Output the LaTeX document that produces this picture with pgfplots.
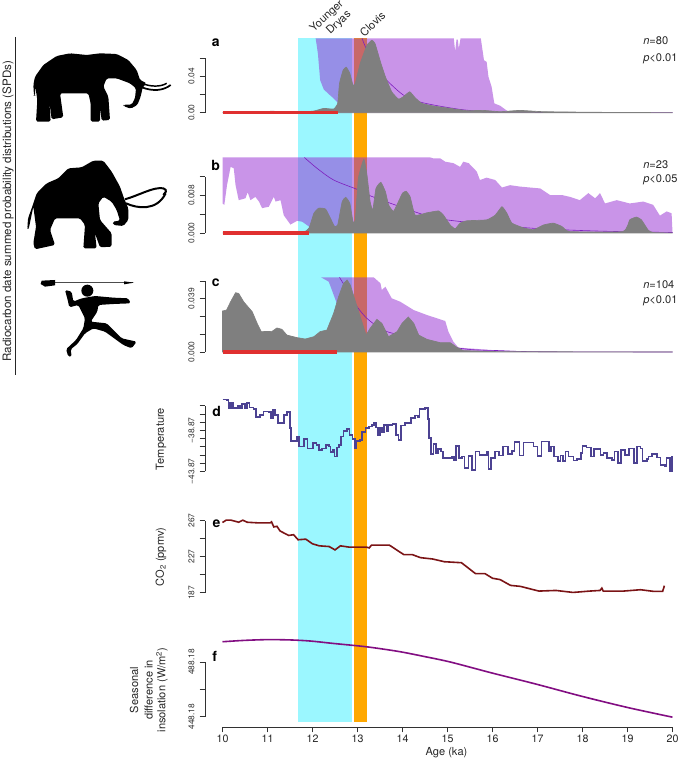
\documentclass[border=0pt]{standalone}
\usepackage{pgfplots}
\usepackage{fontspec}
\setmainfont{TeX Gyre Heros}
\pgfplotsset{compat=1.18}
\definecolor{bcyan}{RGB}{155,247,255}
\definecolor{borange}{RGB}{255,168,0}
\definecolor{pfill}{RGB}{147,41,209}
\definecolor{pline}{RGB}{125,30,190}
\definecolor{sgray}{RGB}{127,127,127}
\definecolor{sred}{RGB}{224,48,48}
\definecolor{tblue}{RGB}{76,66,146}
\definecolor{co2red}{RGB}{123,20,22}
\definecolor{insol}{RGB}{130,14,130}
\definecolor{axc}{RGB}{50,50,50}
\pgfplotsset{
  panel/.style={
    scale only axis, width=350.625pt, xmin=9.611, xmax=20, clip=false,
    axis x line=none, axis y line*=left, scaled y ticks=false,
    axis line style={-,color=axc,line width=0.55pt},
    tick style={color=axc,line width=0.55pt},
    tick align=outside, major tick length=4.1pt,
    yticklabel style={rotate=90,anchor=south,font=\fontsize{6.3}{7}\selectfont,text=black!80,inner sep=0pt},
    yticklabel shift=3.6pt,
  },
  env/.style={fill=pfill,fill opacity=0.5,draw=none,forget plot},
  curve/.style={color=pline,line width=0.45pt,forget plot},
  spd/.style={fill=sgray,draw=sgray,line width=0.5pt,forget plot,smooth,tension=0.25},
  redbar/.style={color=sred,line width=2.4pt,forget plot},
}
\begin{document}
\begin{tikzpicture}
\useasboundingbox (0,0) rectangle (510pt,571.5pt);
% ---- bands
\begin{axis}[scale only axis,hide axis,width=337.5pt,height=513pt,
  at={({222.5*0.75pt},{(762-722)*0.75pt})},xmin=10,xmax=20,ymin=0,ymax=1,clip=false]
\addplot[fill=bcyan,draw=none,forget plot] coordinates {(11.67,0)(11.67,1)(12.88,1)(12.88,0)} -- cycle;
\addplot[fill=borange,draw=none,forget plot] coordinates {(12.92,0)(12.92,1)(13.20,1)(13.20,0)} -- cycle;
\end{axis}
% ---- panel a
\begin{axis}[panel,height=41.1pt,at={({205*0.75pt},{(762-112.7)*0.75pt})},
  ymin=0,ymax=0.06,ytick={0,0.02,0.04,0.06},yticklabels={0.00,,0.04,}]
\addplot[env] coordinates {(12.58,0)(12.58,.0102)(12.47,.0156)(12.36,.0204)(12.25,.0255)(12.17,.0356)(12.12,.0647)(12.07,.0815)
 (15.14,.0815)(15.17,.0670)(15.20,.0800)(15.23,.0800)(15.25,.0700)(15.29,.0815)(15.74,.0815)(15.81,.0575)(15.87,.0556)(15.91,.0393)(15.98,.0284)(16.04,.0102)(16.17,.0076)(16.32,.0022)(16.39,0)} -- cycle;
\addplot[curve,smooth] coordinates {(13.10,.0815)(13.21,.0684)(13.43,.0502)(13.58,.0393)(13.76,.0302)(14.02,.0193)(14.32,.0127)(14.69,.0084)(15.28,.0036)(15.72,.0015)(16.17,.0004)(20,0)};
\addplot[spd] coordinates {(10.00,0)(10.62,.0011)(11.14,.0015)(11.66,.0004)(12.03,.0018)(12.25,.0047)(12.47,.0040)(12.56,.0102)(12.60,.0320)(12.68,.0465)(12.75,.0498)(12.83,.0429)(12.90,.0302)(12.95,.0320)(13.06,.0538)(13.21,.0738)(13.32,.0793)(13.39,.0756)(13.51,.0556)(13.62,.0393)(13.76,.0229)(13.91,.0149)(14.02,.0175)(14.16,.0229)(14.28,.0164)(14.43,.0102)(14.69,.0073)(15.06,.0047)(15.43,.0022)(15.80,.0025)(16.17,.0011)(16.61,.0025)(17.13,.0011)(18.39,.0004)(20,0)} -- cycle;
\addplot[redbar] coordinates {(10,0)(12.57,0)};
\end{axis}
% ---- panel b
\begin{axis}[panel,height=42.2pt,at={({205*0.75pt},{(762-233)*0.75pt})},
  ymin=0,ymax=0.012,ytick={0,0.004,0.008,0.012},yticklabels={0.000,,0.008,}]
\addplot[env] coordinates {(10,.0161)(14.62,.0161)(14.69,.0159)(14.84,.0159)(14.95,.0152)(15.13,.0149)(15.28,.0141)(15.35,.0152)(15.47,.0149)(15.65,.0131)(15.72,.0113)(15.87,.0118)(16.06,.0113)(16.21,.0097)(16.39,.0102)(16.61,.0099)(16.83,.0097)(17.06,.0095)(17.28,.0081)(17.54,.0081)(17.72,.0077)(17.94,.0070)(18.13,.0085)(18.28,.0074)(18.39,.0085)(18.50,.0063)(18.76,.0070)(19.05,.0063)(19.35,.0067)(19.57,.0060)(19.72,.0037)(19.87,.0046)(19.98,.0042)(20,0)
 (11.92,0)(11.92,.0014)(11.77,.0024)(11.66,.0026)(11.51,.0018)(11.36,.0038)(11.29,.0070)(11.18,.0067)(11.14,.0077)(11.03,.0056)(10.88,.0053)(10.81,.0067)(10.73,.0077)(10.62,.0070)(10.56,.0087)(10.51,.0074)(10.36,.0070)(10.29,.0102)(10.25,.0138)(10.18,.0141)(10.10,.0102)(10.04,.0060)(10,.0063)} -- cycle;
\addplot[curve,smooth] coordinates {(11.82,.0161)(12.10,.0138)(12.47,.0113)(12.99,.0093)(13.21,.0082)(13.95,.0056)(14.69,.0033)(15.43,.0023)(16.91,.0010)(18.39,.0004)(20,.0001)};
\addplot[spd] coordinates {(10,0)(11.73,.00014)(11.92,.0010)(12.03,.0042)(12.14,.0053)(12.29,.0051)(12.40,.0031)(12.49,.0014)(12.56,.0017)(12.66,.0067)(12.74,.0076)(12.83,.0063)(12.90,.0024)(12.95,.0028)(13.02,.0117)(13.14,.0157)(13.21,.0124)(13.28,.0067)(13.34,.0049)(13.41,.0095)(13.52,.0108)(13.62,.0088)(13.69,.0060)(13.80,.0046)(13.91,.0067)(14.00,.0085)(14.08,.0089)(14.17,.0077)(14.28,.0038)(14.54,.0043)(14.80,.0047)(14.91,.0038)(15.06,.0017)(15.17,.0009)(15.28,.0021)(15.43,.0026)(15.87,.0028)(16.06,.0038)(16.21,.0056)(16.32,.0042)(16.43,.0021)(16.69,.0011)(16.91,.0007)(17.13,.0017)(17.35,.0021)(17.54,.0014)(17.72,.0003)(18.90,.0003)(19.05,.0028)(19.20,.0034)(19.31,.0028)(19.46,.0006)(19.57,.0001)(20,0)} -- cycle;
\addplot[redbar] coordinates {(10,0)(11.92,0)};
\end{axis}
% ---- panel c
\begin{axis}[panel,height=53.25pt,at={({205*0.75pt},{(762-352)*0.75pt})},
  ymin=0,ymax=0.052,ytick={0,0.013,0.026,0.039,0.052},yticklabels={0.000,,,0.039,}]
\addplot[env] coordinates {(12.62,0)(12.62,.0295)(12.54,.0356)(12.43,.0454)(12.36,.0515)(12.19,.0547)(13.36,.0547)(13.51,.0503)(13.54,.0454)(13.62,.0478)(13.76,.0393)(13.95,.0368)(14.25,.0307)(14.54,.0271)(14.95,.0227)(15.02,.0149)(15.13,.0076)(15.24,.0032)(16.17,.0010)(17.06,.0002)(17.13,0)} -- cycle;
\addplot[curve,smooth] coordinates {(12.60,.0547)(12.77,.0454)(12.99,.0332)(13.21,.0246)(13.51,.0173)(13.84,.0132)(15.28,.0027)(16.17,.0010)(17.06,.0002)(20,0)};
\addplot[fill=sgray,draw=sgray,line width=0.5pt,forget plot] coordinates {(10,0)(10,.0300)(10.09,.0307)(10.18,.0368)(10.29,.0434)(10.36,.0429)(10.47,.0368)(10.66,.0295)(10.77,.0210)(10.86,.0149)(11.10,.0151)(11.21,.0176)(11.32,.0166)(11.43,.0124)(11.66,.0105)(11.84,.0095)(12.03,.0112)(12.17,.0149)(12.32,.0161)(12.47,.0283)(12.58,.0405)(12.69,.0503)(12.77,.0527)(12.84,.0490)(12.99,.0332)(13.19,.0124)(13.28,.0173)(13.43,.0239)(13.54,.0210)(13.69,.0112)(13.88,.0149)(13.99,.0210)(14.13,.0256)(14.25,.0210)(14.36,.0124)(14.54,.0093)(14.84,.0068)(15.06,.0068)(15.21,.0034)(15.35,.0010)(16.17,.0002)(20,0)} -- cycle;
\addplot[redbar] coordinates {(10,0)(12.55,0)};
\end{axis}
% ---- panel d
\begin{axis}[panel,height=49.2pt,at={({205*0.75pt},{(762-471.3)*0.75pt})},
  ymin=-43.87,ymax=-35.87,ytick={-43.87,-42.87,-41.87,-40.87,-39.87,-38.87,-37.87,-36.87,-35.87},
  yticklabels={−43.87,,,,,−38.87,,,}]
\addplot[const plot,color=tblue,line width=1.25pt,forget plot] coordinates {
(10.00,-35.13)(10.09,-35.17)(10.13,-35.58)(10.15,-36.19)(10.19,-35.58)(10.23,-36.19)(10.34,-35.90)(10.39,-36.11)(10.43,-35.70)(10.50,-36.11)(10.55,-35.54)(10.60,-36.07)(10.69,-36.27)(10.75,-37.28)(10.83,-37.00)(10.91,-36.59)(11.03,-36.67)(11.08,-37.41)(11.12,-36.43)(11.17,-37.00)(11.24,-37.98)(11.37,-37.00)(11.43,-36.63)(11.50,-38.63)(11.52,-40.17)(11.65,-39.64)(11.70,-40.86)(11.81,-39.97)(11.89,-41.07)(12.01,-40.46)(12.09,-40.66)(12.15,-41.27)(12.21,-41.07)(12.30,-40.66)(12.37,-40.86)(12.40,-41.55)(12.45,-41.27)(12.49,-42.08)(12.54,-40.98)(12.59,-40.66)(12.63,-39.64)(12.69,-38.95)(12.77,-38.71)(12.82,-39.44)(12.89,-39.93)(12.95,-41.07)(12.98,-40.17)(13.06,-40.05)(13.10,-39.11)(13.18,-38.63)(13.26,-38.42)(13.32,-38.22)(13.36,-38.02)(13.41,-38.54)(13.45,-39.52)(13.50,-38.63)(13.54,-39.11)(13.59,-38.22)(13.65,-39.03)(13.69,-38.22)(13.78,-38.14)(13.85,-39.44)(13.91,-40.05)(13.97,-38.30)(14.06,-38.02)(14.19,-37.33)(14.28,-37.08)(14.34,-37.24)(14.38,-36.27)(14.50,-36.19)(14.56,-37.49)(14.59,-39.85)
(14.64,-41.80)(14.69,-40.58)(14.74,-41.67)(14.79,-41.15)(14.85,-41.47)(14.90,-42.28)(15.10,-42.12)(15.15,-42.57)(15.19,-40.78)(15.25,-42.28)(15.32,-42.08)(15.38,-43.50)(15.47,-42.00)(15.54,-43.71)(15.62,-41.47)(15.71,-41.88)(15.88,-41.55)(15.91,-43.59)(15.97,-42.28)(16.06,-41.47)(16.14,-41.96)(16.23,-40.86)(16.34,-41.80)(16.43,-41.39)(16.49,-40.33)(16.60,-41.96)(16.69,-40.37)(16.91,-40.86)(17.00,-42.00)(17.09,-40.25)(17.25,-41.47)(17.30,-40.86)(17.36,-42.08)(17.45,-42.61)(17.51,-41.96)(17.56,-42.61)(17.62,-41.47)(17.69,-42.08)(17.80,-42.57)(17.88,-42.37)(17.97,-41.67)(18.00,-40.78)(18.09,-40.98)(18.19,-42.08)(18.26,-41.15)(18.40,-41.88)(18.47,-41.67)(18.55,-42.28)(18.66,-42.49)(18.71,-41.47)(18.79,-42.89)(18.86,-41.27)(18.94,-41.88)(19.03,-41.07)(19.15,-42.89)(19.21,-40.86)(19.29,-41.07)(19.33,-42.61)(19.44,-42.37)(19.47,-42.08)(19.55,-41.80)(19.66,-42.20)(19.73,-43.10)(19.84,-43.30)(19.87,-42.28)(19.94,-43.91)(19.985,-42.08)(20.00,-42.08)};
\end{axis}
% ---- panel e
\begin{axis}[panel,height=54.2pt,at={({205*0.75pt},{(762-592.8)*0.75pt})},
  ymin=187,ymax=267,ytick={187,207,227,247,267},yticklabels={187,,227,,267}]
\addplot[color=co2red,line width=1.2pt,forget plot] coordinates {
(10.00,264.8)(10.08,267.4)(10.19,267.4)(10.36,265.1)(10.45,267.4)(10.55,265.1)(10.79,264.4)(11.06,264.4)(11.09,265.5)(11.14,259.9)(11.21,260.6)(11.28,255.4)(11.47,250.5)(11.58,251.3)(11.68,245.7)(11.85,246.4)(12.00,241.2)(12.15,239.0)(12.37,238.2)(12.50,234.5)(12.62,239.0)(12.82,237.5)(13.20,237.5)(13.26,236.7)(13.31,239.7)(13.71,239.7)(14.03,229.2)(14.22,229.2)(14.40,225.9)(14.67,224.4)(14.93,221.4)(15.31,220.3)(15.62,208.3)(15.83,208.3)(16.00,203.1)(16.17,201.6)(16.40,195.2)(16.62,194.1)(17.03,188.9)(17.41,189.6)(17.79,187.4)(18.16,188.9)(18.39,189.6)(18.43,192.2)(18.46,188.9)(18.91,188.9)(19.29,190.4)(19.59,188.5)(19.78,188.5)(19.82,194.9)};
\end{axis}
% ---- panel f
\begin{axis}[panel,height=41.0pt,at={({205*0.75pt},{(762-716.8)*0.75pt})},
  ymin=448.18,ymax=488.18,ytick={448.18,468.18,488.18},yticklabels={448.18,,488.18}]
\addplot[smooth,color=insol,line width=1.2pt,forget plot] coordinates {
(10,503.1)(10.49,504.1)(11.01,504.65)(11.53,504.4)(11.96,503.6)(12.48,501.8)(13.20,499.4)(13.91,496.0)(14.47,492.4)(15.07,488.2)(15.98,480.3)(16.98,472.0)(17.97,463.3)(19.0,455.0)(20,447.9)};
\end{axis}
% ---- x axis
\begin{axis}[scale only axis,width=337.5pt,height=10pt,at={({222.5*0.75pt},{(762-727)*0.75pt})},
  xmin=10,xmax=20,ymin=0,ymax=1,axis y line=none,axis x line*=bottom,
  axis line style={-,color=axc,line width=0.55pt},tick style={color=axc,line width=0.55pt},
  tick align=outside,major tick length=4.1pt,xtick={10,...,20},
  /pgf/number format/assume math mode=true,
  xticklabel style={font=\fontsize{8}{9}\selectfont,text=black!85,inner sep=0pt},
  xticklabel shift=1.5pt]
\addplot[draw=none,forget plot] coordinates {(10,0)(20,0)};
\end{axis}
% ---- everything else in pixel coordinates
\begin{scope}[x=0.75pt,y=-0.75pt,shift={(0pt,571.5pt)}]
\draw[line width=0.55pt,color=black!85] (15.7,37)--(15.7,375);
\node[rotate=90,font=\fontsize{8.7}{10}\selectfont,text=black!85,inner sep=0pt] at (8,211) {Radiocarbon date summed probability distributions (SPDs)};
\foreach \l/\x/\y in {a/215.7/42.5,b/215.7/165,c/215.7/283,d/216.6/411,e/216.6/523.5,f/214.6/656.8}
  \node[font=\fontsize{10.5}{12}\bfseries\selectfont,inner sep=0pt] at (\x,\y) {\l};
\begin{scope}[every node/.style={anchor=west,font=\fontsize{8.3}{10}\selectfont,inner sep=0pt,text=black!85}]
\node at (643,40.7) {\textit{n}=80};
\node at (643,58.7) {\textit{p}<0.01};
\node at (643,164.3) {\textit{n}=23};
\node at (643,180) {\textit{p}<0.05};
\node at (643,284.3) {\textit{n}=104};
\node at (643,300.7) {\textit{p}<0.01};
\end{scope}
\begin{scope}[every node/.style={font=\fontsize{8.3}{10}\selectfont,inner sep=0pt,text=black!85}]
\node[rotate=43] at (327,16.5) {Younger};
\node[rotate=43] at (339,23) {Dryas};
\node[rotate=43] at (372.5,24) {Clovis};
\node[rotate=90] at (161,439) {Temperature};
\node[rotate=90] at (161,557) {CO\textsubscript{2} (ppmv)};
\node[rotate=90] at (134,690) {Seasonal};
\node[rotate=90] at (148.6,690) {difference in};
\node[rotate=90] at (162,690) {insolation (W/m\textsuperscript{2})};
\node at (446.5,753) {Age (ka)};
\end{scope}
\end{scope}
% silhouettes (coordinates: 3x pixel, origin at pixel (0,30))
\begin{scope}[x=0.25pt,y=-0.25pt,shift={(0pt,549pt)}]
\fill[black,rounded corners=1.2pt] (102,197)--(100,165)--(105,140)--(130,105)--(170,78)--(210,70)--(260,75)--(300,70)--(350,72)--(385,90)--(410,120)--(420,150)--(440,160)--(428,172)--(422,200)--(412,225)--(392,236)--(370,228)--(372,224)--(395,224)--(405,205)--(408,175)--(390,160)--(350,145)--(320,145)--(310,170)--(325,200)--(330,270)--(305,272)--(300,230)--(300,275)--(272,275)--(272,220)--(265,190)--(180,190)--(190,262)--(155,268)--(148,215)--(152,275)--(108,275)--(112,210)--(106,170)--(105,197)--cycle;
\draw[black,line width=1.1pt] (425,160) .. controls (450,170) and (480,172) .. (500,160);
\draw[black,line width=1.3pt] (425,172) .. controls (460,185) and (490,182) .. (512,165);
\fill[black,rounded corners=1.2pt] (82,597)--(84,565)--(95,535)--(110,490)--(140,460)--(175,445)--(205,415)--(245,412)--(280,392)--(310,392)--(335,425)--(360,470)--(372,505)--(385,535)--(385,570)--(370,588)--(340,585)--(338,575)--(360,572)--(350,540)--(335,515)--(310,500)--(295,520)--(300,570)--(335,610)--(335,650)--(300,652)--(285,610)--(290,655)--(250,655)--(255,585)--(240,565)--(165,565)--(150,600)--(165,645)--(105,658)--(100,640)--(108,590)--(100,530)--(86,597)--cycle;
\draw[black,line width=1.5pt] (375,508) .. controls (420,495) and (460,470) .. (490,475) .. controls (505,480) and (495,490) .. (490,495);
\draw[black,line width=1.5pt] (378,520) .. controls (410,535) and (470,545) .. (497,490);
\draw[black!70,line width=0.9pt] (130,758)--(400,758);
\fill[black] (125,752)--(165,750)--(165,766)--(135,770)--(122,762)--cycle;
\fill[black] (372,754)--(402,758)--(372,763)--cycle;
\fill[black] (262,782) circle [radius=18];
\fill[black,rounded corners=1.2pt] (195,780)--(215,785)--(220,815)--(245,805)--(285,798)--(340,803)--(385,805)--(392,820)--(340,822)--(295,825)--(292,845)--(272,875)--(320,880)--(365,925)--(410,935)--(395,955)--(370,945)--(315,905)--(280,895)--(255,910)--(232,942)--(212,958)--(215,980)--(205,980)--(198,958)--(228,930)--(250,895)--(255,865)--(235,825)--(208,832)--(203,810)--cycle;
\end{scope}
\end{tikzpicture}
\end{document}
